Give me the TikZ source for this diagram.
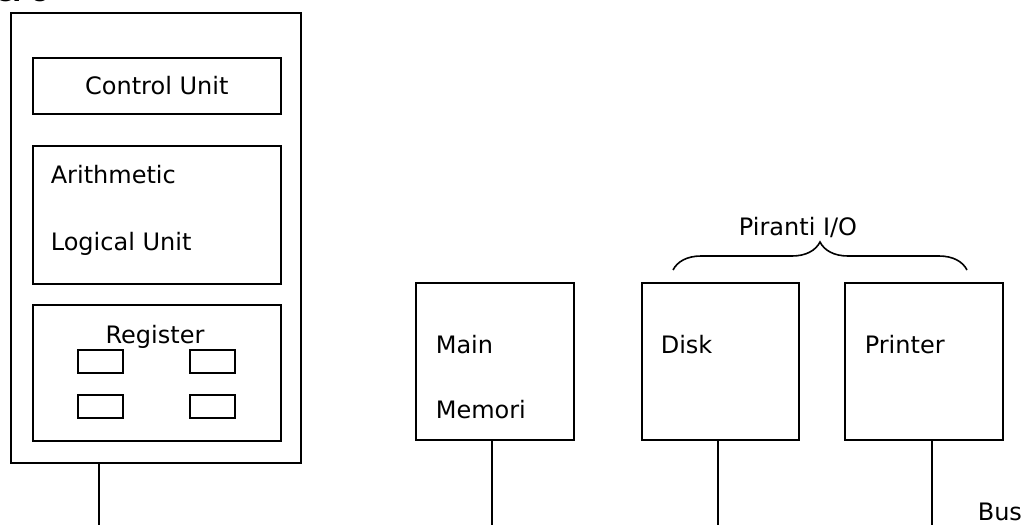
\documentclass[tikz,border=0pt]{standalone}
\usepackage{fontspec}
\setmainfont{DejaVu Sans}
\usetikzlibrary{positioning,decorations.pathreplacing}

\begin{document}
\begin{tikzpicture}[%
    x=1pt, y=-1pt,
    line width=1.6pt,
    box/.style={draw, rectangle, inner sep=0, anchor=north west,
      font=\fontsize{24}{28}\selectfont},
    regbox/.style={box, minimum width=45pt, minimum height=23pt},
    txt/.style={inner sep=0, anchor=base west, font=\fontsize{24}{28}\selectfont}
  ]
    \useasboundingbox (0,0) rectangle (1024,525);

    \node[txt, font=\fontsize{24}{28}\selectfont\bfseries] (title) at (-6,1) {CPU};

    \node[box, minimum width=290pt, minimum height=450pt] (cpu) at (10,12) {};

    \node[box, minimum width=248pt, minimum height=56pt] (cu) at (32,57) {Control Unit};

    \node[box, minimum width=248pt, minimum height=138pt] (alu) at (32,145) {};
    \node[txt] (alu1) at (50,183) {Arithmetic};
    \node[txt] (alu2) at (50,250) {Logical Unit};

    \node[box, minimum width=248pt, minimum height=136pt] (reg) at (32,304) {};
    \node[txt, anchor=base] (regtext) at (155,343) {Register};
    \foreach \i/\x/\y in {1/77/349, 2/189/349, 3/77/394, 4/189/394}
      \node[regbox] (r\i) at (\x,\y) {};

    \node[box, minimum width=158pt, minimum height=157pt] (mem) at (415,282) {};
    \node[txt] (mem1) at (435,353) {Main};
    \node[txt] (mem2) at (435,418) {Memori};

    \node[box, minimum width=157pt, minimum height=157pt] (disk) at (641,282) {};
    \node[txt] (disktext) at (660,353) {Disk};

    \node[box, minimum width=158pt, minimum height=157pt] (printer) at (844,282) {};
    \node[txt] (printertext) at (864,353) {Printer};

    % Piranti I/O
    \coordinate (bl) at (673,270);
    \coordinate (br) at (967,270);
    \draw[decorate, decoration={brace, amplitude=28pt}] (bl) -- (br);
    \node[txt, anchor=base] (io) at (798,235) {Piranti I/O};

    % bus
    \coordinate (b1) at (99,525);
    \coordinate (b2) at (492,525);
    \coordinate (b3) at (718,525);
    \coordinate (b4) at (932,525);
    \draw (cpu.south -| b1) -- (b1);
    \draw (mem.south -| b2) -- (b2);
    \draw (disk.south -| b3) -- (b3);
    \draw (printer.south -| b4) -- (b4);
    \node[txt] (bus) at (977,520) {Bus};
\end{tikzpicture}
\end{document}
